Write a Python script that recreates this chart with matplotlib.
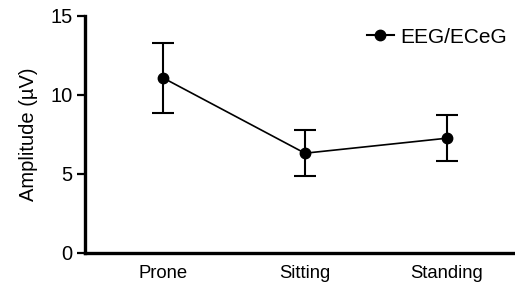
import matplotlib
matplotlib.use("Agg")
import matplotlib.pyplot as plt
from matplotlib.lines import Line2D

categories = ["Prone", "Sitting", "Standing"]
means = [11.08, 6.31, 7.26]
errors = [2.2, 1.45, 1.45]
yticks = [0, 5, 10, 15]

plt.rcParams['font.family'] = ['Liberation Sans', 'DejaVu Sans']
fig = plt.figure(figsize=(5.15, 2.9), dpi=100)
ax = fig.add_axes([0.165, 0.128, 0.835, 0.817])
x = list(range(len(categories)))
ax.errorbar(x, means, yerr=errors, color='black', marker='o', markersize=7.5,
            linewidth=1.2, elinewidth=1.5, capsize=8, capthick=1.5)
ax.set_xlim(-0.55, 2.48)
ax.set_ylim(0, 15)
ax.set_yticks(yticks)
ax.set_xticks(x)
ax.set_xticklabels(categories, fontsize=13.3)
ax.tick_params(axis='x', length=0, pad=9)
ax.tick_params(axis='y', length=6, width=1.6, labelsize=14.5, pad=3)
ax.spines['top'].set_visible(False)
ax.spines['right'].set_visible(False)
ax.spines['left'].set_linewidth(2.4)
ax.spines['bottom'].set_linewidth(2.4)
ax.set_ylabel('Amplitude (µV)', fontsize=14.5, labelpad=9)
handle = Line2D([], [], color='black', marker='o', markersize=7.5, linewidth=1.5)
ax.legend([handle], ['EEG/ECeG'], loc='center right', frameon=False, fontsize=15,
          handlelength=1.3, handletextpad=0.3, borderaxespad=0.0,
          bbox_to_anchor=(1.0, 0.91))
fig.savefig('out.png', dpi=100)
